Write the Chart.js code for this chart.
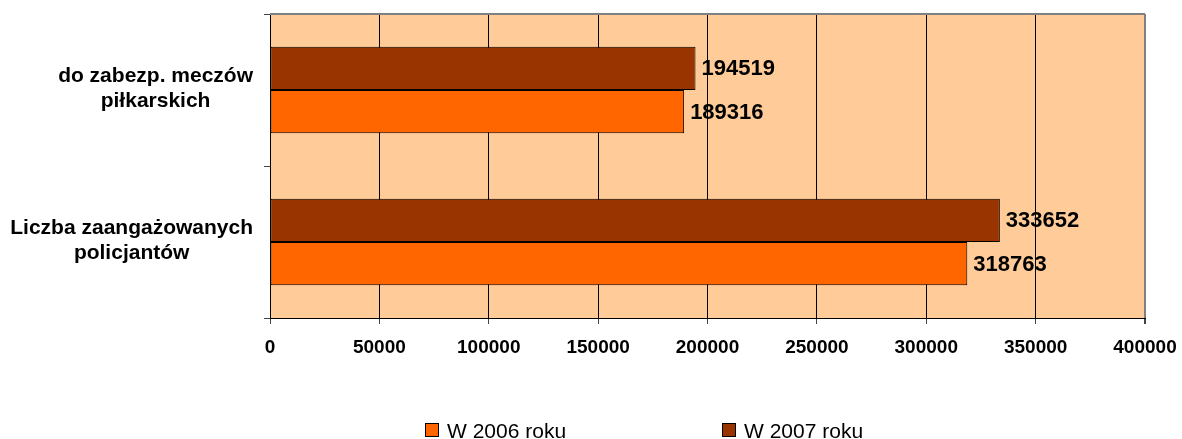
<!DOCTYPE html>
<html>
<head>
<meta charset="utf-8">
<script src="https://cdn.jsdelivr.net/npm/chart.js@4.4.1/dist/chart.umd.min.js"></script>
<style>
    html, body { margin: 0; padding: 0; background: #ffffff; }
    #wrap { width: 1182px; height: 439px; }
</style>
</head>
<body>
<div id="wrap"><canvas id="policeChart" width="1182" height="439"></canvas></div>
<script>
// categories, top to bottom
const categories = [
    ["do zabezp. meczów", "piłkarskich"],
    ["Liczba zaangażowanych", "policjantów"]
];
const values2006 = [189316, 318763];
const values2007 = [194519, 333652];
const seriesNames = ["W 2006 roku", "W 2007 roku"];
const xTicks = [0, 50000, 100000, 150000, 200000, 250000, 300000, 350000, 400000];

const FONT = "'Liberation Sans', Arial, sans-serif";
const color2006 = "#FF6600";
const color2007 = "#993300";

// peach plot area plus grey top border
const plotBackground = {
    id: "plotBackground",
    beforeDraw(chart) {
        const a = chart.chartArea;
        const ctx = chart.ctx;
        ctx.save();
        ctx.fillStyle = "#FFCC99";
        ctx.fillRect(a.left, a.top, a.right - a.left, a.bottom - a.top);
        ctx.restore();
    },
    afterDraw(chart) {
        const a = chart.chartArea;
        const ctx = chart.ctx;
        ctx.save();
        ctx.strokeStyle = "#808080";
        ctx.lineWidth = 2;
        ctx.beginPath();
        ctx.moveTo(a.left, a.top);
        ctx.lineTo(a.right, a.top);
        ctx.stroke();
        ctx.restore();
    }
};

// category labels: block right-aligned, lines centred in it
const categoryLabels = {
    id: "categoryLabels",
    afterDraw(chart) {
        const ctx = chart.ctx;
        const yScale = chart.scales.y;
        ctx.save();
        ctx.font = "bold 21px " + FONT;
        ctx.fillStyle = "#000";
        ctx.textAlign = "center";
        ctx.textBaseline = "middle";
        categories.forEach(function (lines, i) {
            const y = yScale.getPixelForValue(i) - 1.5;
            let maxW = 0;
            lines.forEach(function (l) { maxW = Math.max(maxW, ctx.measureText(l).width); });
            const cx = 253 - maxW / 2;
            lines.forEach(function (l, j) {
                ctx.fillText(l, cx, y + (j - (lines.length - 1) / 2) * 25);
            });
        });
        ctx.restore();
    }
};

// value labels at the end of each bar
const valueLabels = {
    id: "valueLabels",
    afterDatasetsDraw(chart) {
        const ctx = chart.ctx;
        ctx.save();
        ctx.font = "bold 22px " + FONT;
        ctx.fillStyle = "#000";
        ctx.textAlign = "left";
        ctx.textBaseline = "middle";
        chart.data.datasets.forEach(function (ds, di) {
            chart.getDatasetMeta(di).data.forEach(function (bar, i) {
                ctx.fillText(String(ds.data[i]), bar.x + 6, bar.y + 1);
            });
        });
        ctx.restore();
    }
};

// legend at the bottom, 2006 first
const bottomLegend = {
    id: "bottomLegend",
    afterDraw(chart) {
        const ctx = chart.ctx;
        const items = [
            { text: seriesNames[0], color: color2006, x: 425 },
            { text: seriesNames[1], color: color2007, x: 722 }
        ];
        ctx.save();
        ctx.font = "21px " + FONT;
        ctx.textAlign = "left";
        ctx.textBaseline = "alphabetic";
        items.forEach(function (it) {
            ctx.fillStyle = it.color;
            ctx.fillRect(it.x + 0.5, 423.5, 13, 13);
            ctx.strokeStyle = "#000";
            ctx.lineWidth = 1;
            ctx.strokeRect(it.x + 0.5, 423.5, 13, 13);
            ctx.fillStyle = "#000";
            ctx.fillText(it.text, it.x + 22, 438);
        });
        ctx.restore();
    }
};

new Chart(document.getElementById("policeChart"), {
    type: "bar",
    data: {
        labels: categories,
        datasets: [
            {
                label: seriesNames[1],
                data: values2007,
                backgroundColor: color2007,
                borderColor: "#000",
                borderWidth: 1,
                borderSkipped: false
            },
            {
                label: seriesNames[0],
                data: values2006,
                backgroundColor: color2006,
                borderColor: "#000",
                borderWidth: 1,
                borderSkipped: false
            }
        ]
    },
    options: {
        indexAxis: "y",
        responsive: false,
        animation: false,
        categoryPercentage: 0.57,
        barPercentage: 1.0,
        layout: {
            padding: { left: 0, top: 14, right: 37, bottom: 81 }
        },
        plugins: {
            legend: { display: false },
            tooltip: { enabled: false }
        },
        scales: {
            x: {
                min: 0,
                max: 400000,
                afterBuildTicks: function (scale) {
                    scale.ticks = xTicks.map(v => ({ value: v }));
                },
                afterFit: function (scale) {
                    scale.height = 40;
                    scale.paddingLeft = 0;
                    scale.paddingRight = 0;
                },
                border: { display: true, color: "#000", width: 1 },
                grid: {
                    color: function (ctx) {
                        return ctx.tick && ctx.tick.value === 400000 ? "#808080" : "#000";
                    },
                    lineWidth: function (ctx) {
                        return ctx.tick && ctx.tick.value === 400000 ? 2 : 1;
                    },
                    drawTicks: true,
                    tickLength: 6,
                    tickColor: "#444"
                },
                ticks: {
                    color: "#000",
                    font: { family: FONT, size: 19, weight: "bold" },
                    padding: 12,
                    maxRotation: 0,
                    autoSkip: false,
                    callback: function (value) {
                        return String(value);
                    }
                }
            },
            y: {
                afterFit: function (scale) {
                    scale.width = 270;
                },
                border: { display: true, color: "#000", width: 1 },
                grid: {
                    offset: true,
                    drawOnChartArea: false,
                    drawTicks: true,
                    tickLength: 6,
                    tickColor: "#444"
                },
                ticks: { display: false }
            }
        }
    },
    plugins: [plotBackground, categoryLabels, valueLabels, bottomLegend]
});
</script>
</body>
</html>
